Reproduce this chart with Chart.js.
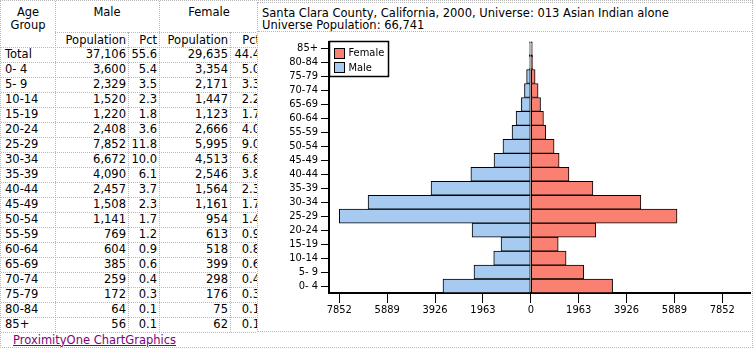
<!DOCTYPE html>
<html><head><meta charset="utf-8">
<script src="https://cdn.jsdelivr.net/npm/chart.js@4/dist/chart.umd.min.js"></script>
<style>
html,body{margin:0;padding:0;background:#fff;}
#wrap{position:relative;width:755px;height:350px;overflow:hidden;font-family:"DejaVu Sans",Verdana,sans-serif;font-size:11.5px;color:#000;background:#fff;}
.t{position:absolute;white-space:pre;line-height:13px;height:13px;}
.h{position:absolute;border-top:1px dotted #b8b8b8;height:0;}
.v{position:absolute;border-left:1px dotted #b8b8b8;width:0;}
#frame{position:absolute;left:0;top:0;width:751px;height:346px;border:1px dotted #b8b8b8;}
#tbl{position:absolute;left:0;top:0;width:257px;height:350px;overflow:hidden;}
#panel{position:absolute;left:257px;top:2px;width:494px;height:328px;background:#fff;border:1px dotted #b8b8b8;}
#cv{position:absolute;left:258px;top:32px;}
a{color:#800080;text-decoration:underline;}
</style>
</head><body>
<div id="wrap">
  <div id="frame"></div>
  <div id="tbl"></div>
  <div id="panel"></div>
  <canvas id="cv" width="494" height="298"></canvas>
</div>
<script>
const ageGroups = ['0- 4','5- 9','10-14','15-19','20-24','25-29','30-34','35-39','40-44','45-49','50-54','55-59','60-64','65-69','70-74','75-79','80-84','85+'];
const malePop   = [3600,2329,1520,1220,2408,7852,6672,4090,2457,1508,1141,769,604,385,259,172,64,56];
const malePct   = [5.4,3.5,2.3,1.8,3.6,11.8,10.0,6.1,3.7,2.3,1.7,1.2,0.9,0.6,0.4,0.3,0.1,0.1];
const femalePop = [3354,2171,1447,1123,2666,5995,4513,2546,1564,1161,954,613,518,399,298,176,75,62];
const femalePct = [5.0,3.3,2.2,1.7,4.0,9.0,6.8,3.8,2.3,1.7,1.4,0.9,0.8,0.6,0.4,0.3,0.1,0.1];
const maleTotal = 37106, maleTotalPct = 55.6, femaleTotal = 29635, femaleTotalPct = 44.4;
const xTickValues = [-7852,-5889,-3926,-1963,0,1963,3926,5889,7852];
const titleLines = ['Santa Clara County, California, 2000, Universe: 013 Asian Indian alone','Universe Population: 66,741'];

const wrap = document.getElementById('wrap');
const tbl = document.getElementById('tbl');
function txt(parent, x, y, s, align, extra){
  const d = document.createElement('div');
  d.className = 't';
  d.textContent = s;
  d.style.top = (y - 6.5) + 'px';
  if (align === 'right'){ d.style.left = (x - 200) + 'px'; d.style.width = '200px'; d.style.textAlign = 'right'; }
  else if (align === 'center'){ d.style.left = (x - 100) + 'px'; d.style.width = '200px'; d.style.textAlign = 'center'; }
  else { d.style.left = x + 'px'; }
  if (extra) Object.assign(d.style, extra);
  parent.appendChild(d);
  return d;
}
function hl(parent, x1, x2, y){ const d=document.createElement('div'); d.className='h'; d.style.left=x1+'px'; d.style.width=(x2-x1)+'px'; d.style.top=y+'px'; parent.appendChild(d); }
function vl(parent, x, y1, y2){ const d=document.createElement('div'); d.className='v'; d.style.left=x+'px'; d.style.top=y1+'px'; d.style.height=(y2-y1)+'px'; parent.appendChild(d); }
const fmt = n => n.toLocaleString('en-US');

// table grid
vl(tbl, 55, 1, 332); vl(tbl, 159, 1, 332); vl(tbl, 128, 32, 332); vl(tbl, 230, 32, 332);
hl(tbl, 55, 262, 32);
for (let k = 0; k <= 19; k++) hl(tbl, 1, 262, 47 + k*15);

// header
txt(tbl, 28, 12, 'Age', 'center'); txt(tbl, 28, 25, 'Group', 'center');
txt(tbl, 107, 12, 'Male', 'center'); txt(tbl, 209, 12, 'Female', 'center');
txt(tbl, 126, 40, 'Population', 'right'); txt(tbl, 157, 40, 'Pct', 'right');
txt(tbl, 228, 40, 'Population', 'right'); txt(tbl, 260, 40, 'Pct', 'right');
const rows = [['Total', maleTotal, maleTotalPct, femaleTotal, femaleTotalPct]];
ageGroups.forEach((g,i)=>rows.push([g, malePop[i], malePct[i], femalePop[i], femalePct[i]]));
rows.forEach((r,i)=>{
  const y = 54.5 + i*15;
  txt(tbl, 5, y, r[0], 'left');
  txt(tbl, 126, y, fmt(r[1]), 'right');
  txt(tbl, 157, y, r[2].toFixed(1), 'right');
  txt(tbl, 228, y, fmt(r[3]), 'right');
  txt(tbl, 260, y, r[4].toFixed(1), 'right');
});
const ld = txt(wrap, 13, 340, '', 'left');
const a = document.createElement('a'); a.href = '#'; a.textContent = 'ProximityOne ChartGraphics'; ld.appendChild(a);

txt(wrap, 262, 13, titleLines[0], 'left');
txt(wrap, 262, 25.5, titleLines[1], 'left');
hl(wrap, 258, 752, 31);

const chartFont = '"DejaVu Sans Condensed", "Liberation Sans", sans-serif';
Chart.defaults.font.family = chartFont;
Chart.defaults.font.size = 11;
Chart.defaults.color = '#000';

const legendBox = {
  id: 'legendBox',
  afterDraw(c){
    const ctx = c.ctx, ar = c.chartArea;
    const x = Math.round(ar.left) + 0.5, y = Math.round(ar.top) - 0.5, w = 59, h = 35;
    ctx.save();
    ctx.fillStyle = '#fff'; ctx.fillRect(x, y, w, h);
    ctx.strokeStyle = '#000'; ctx.lineWidth = 1.5; ctx.strokeRect(x, y, w, h);
    ctx.lineWidth = 1;
    const items = c.data.datasets.slice().reverse();
    items.forEach((d, i) => {
      const cy = y + 11 + i * 14.7;
      const sy = Math.round(cy - 5) + 0.5;
      ctx.fillStyle = d.backgroundColor; ctx.fillRect(x + 5, sy, 10, 10);
      ctx.strokeStyle = '#000'; ctx.strokeRect(x + 5, sy, 10, 10);
      ctx.fillStyle = '#000'; ctx.font = '11px ' + chartFont;
      ctx.textBaseline = 'middle'; ctx.textAlign = 'left';
      ctx.fillText(d.label, x + 19, cy + 0.5);
    });
    ctx.restore();
  }
};

new Chart(document.getElementById('cv'), {
  type: 'bar',
  data: {
    labels: ageGroups,
    datasets: [
      { label: 'Male', data: malePop.map(v => -v), backgroundColor: '#A6CAF0', borderColor: '#000', borderWidth: 1, borderSkipped: false, barPercentage: 1, categoryPercentage: 1 },
      { label: 'Female', data: femalePop, backgroundColor: '#FA8072', borderColor: '#000', borderWidth: 1, borderSkipped: false, barPercentage: 1, categoryPercentage: 1 }
    ]
  },
  options: {
    indexAxis: 'y', responsive: false, animation: false, devicePixelRatio: 1,
    layout: { padding: { top: 2, right: 2, left: 0, bottom: 0 } },
    scales: {
      x: {
        type: 'linear', stacked: true, min: -8274, max: 8987,
        afterBuildTicks: s => { s.ticks = xTickValues.map(v => ({ value: v })); },
        ticks: { callback: v => String(Math.abs(v)), autoSkip: false, maxRotation: 0, padding: 1 },
        grid: { drawOnChartArea: false, drawTicks: true, tickLength: 10, color: '#000', lineWidth: 1 },
        border: { display: true, color: '#000', width: 2 },
        afterFit: s => { s.height = 37; }
      },
      y: {
        type: 'category', stacked: true, reverse: true,
        ticks: { autoSkip: false, padding: 3 },
        grid: { drawOnChartArea: false, drawTicks: true, tickLength: 8, color: '#000', lineWidth: 1, offset: false },
        border: { display: true, color: '#000', width: 2 },
        afterFit: s => { s.width = 71; }
      }
    },
    plugins: { legend: { display: false }, tooltip: { enabled: false } }
  },
  plugins: [legendBox]
});
</script>
</body></html>
